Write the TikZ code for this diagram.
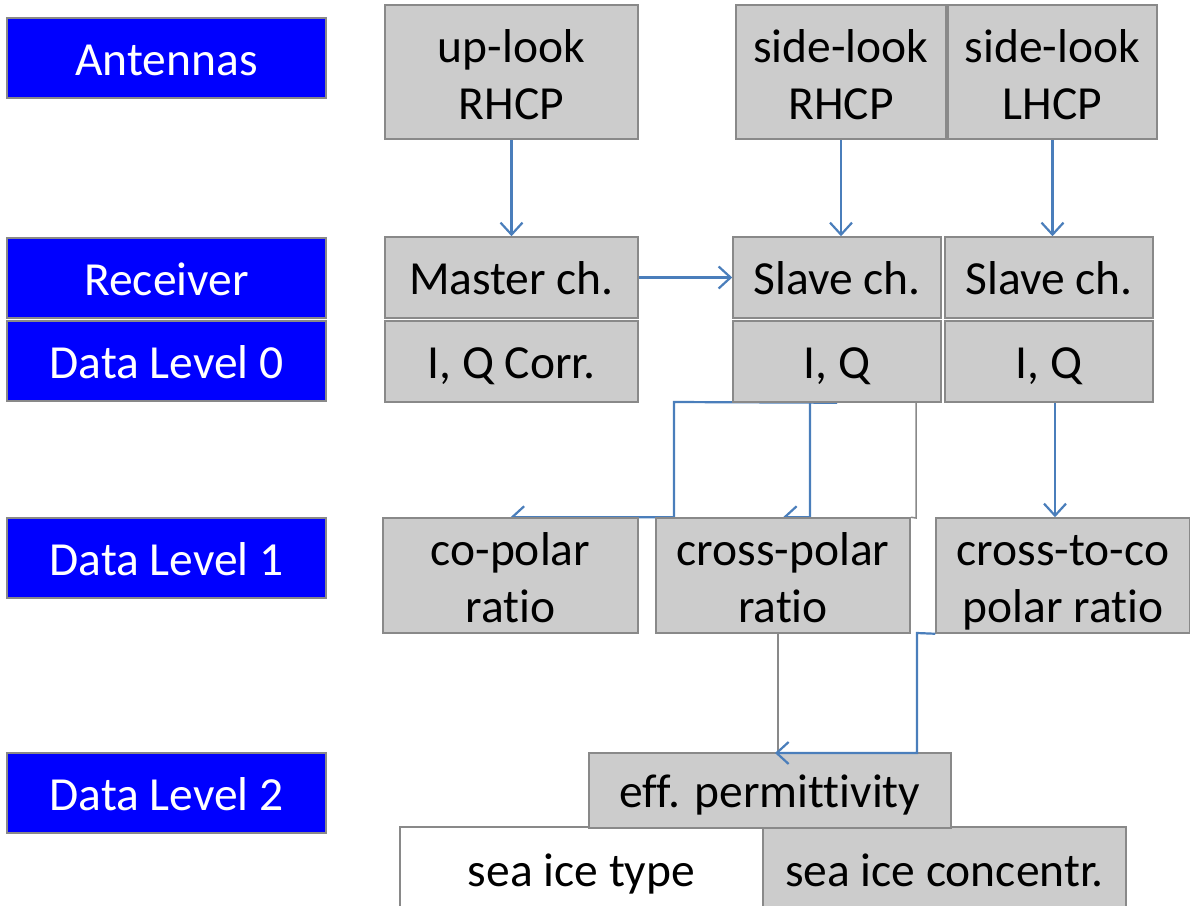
\documentclass[tikz,border=0pt]{standalone}
\usepackage{fontspec}
\setmainfont{Carlito}[Ligatures=NoCommon]
\usetikzlibrary{arrows.meta,backgrounds}
\definecolor{boxgrey}{RGB}{204,204,204}
\definecolor{edgegrey}{RGB}{137,137,137}
\definecolor{pureblue}{RGB}{0,0,255}
\definecolor{connblue}{RGB}{74,126,187}
\begin{document}
\begin{tikzpicture}[x=1pt,y=-1pt,
  box/.style={draw=edgegrey, line width=1.5pt, fill=boxgrey, inner sep=0pt, align=center, font=\fontsize{47.5}{57}\selectfont, text height=41pt, text depth=7pt},
  twoline/.style={text height=100pt, text depth=6pt},
  lab/.style={box, fill=pureblue, text=white, minimum width=319pt, minimum height=80pt},
  conn/.style={draw=connblue, line width=2.2pt, -{Straight Barb[length=12pt,width=22pt]}},
  gline/.style={draw=edgegrey, line width=1.5pt}]
\useasboundingbox (0,0) rectangle (1190,905);
\clip (0,0) rectangle (1190,905);
% level labels
\node[lab] (antennas) at (166.5,58) {Antennas};
\node[lab] (receiver) at (166.5,278) {Receiver};
\node[lab] (dl0) at (166.5,361) {Data Level 0};
\node[lab] (dl1) at (166.5,558) {Data Level 1};
\node[lab] (dl2) at (166.5,793) {Data Level 2};
% antennas
\node[box, twoline, minimum width=253pt, minimum height=134pt] (up) at (511.5,72) {up-look\\RHCP};
\node[box, twoline, minimum width=210pt, minimum height=134pt] (sR) at (841,72) {side-look\\RHCP};
\node[box, twoline, minimum width=209pt, minimum height=134pt] (sL) at (1052.5,72) {side-look\\LHCP};
% receiver
\node[box, minimum width=253pt, minimum height=81pt] (master) at (511.5,277.5) {Master ch.};
\node[box, minimum width=208pt, minimum height=81pt] (slave1) at (837,277.5) {Slave ch.};
\node[box, minimum width=208pt, minimum height=81pt] (slave2) at (1049,277.5) {Slave ch.};
% level 0
\node[box, minimum width=253pt, minimum height=81pt] (iqc) at (511.5,361.5) {I, Q Corr.};
\node[box, minimum width=208pt, minimum height=81pt] (iq1) at (837,361.5) {I, Q};
\node[box, minimum width=208pt, minimum height=81pt] (iq2) at (1049,361.5) {I, Q};
% level 1
\node[box, twoline, minimum width=255pt, minimum height=115pt] (copolar) at (510.5,575.5) {co-polar\\ratio};
\node[box, twoline, minimum width=254pt, minimum height=115pt] (crosspolar) at (783,575.5) {cross-polar\\ratio};
\node[box, twoline, minimum width=254pt, minimum height=115pt] (c2c) at (1063,575.5) {cross-to-co\\polar ratio};
% level 2
\node[box, minimum width=363pt, minimum height=84pt, fill=white] (type) at (581.5,869) {sea ice type};
\node[box, minimum width=363pt, minimum height=84pt] (conc) at (944.5,869) {sea ice concentr.};
\node[box, minimum width=362pt, minimum height=75pt] (eff) at (770,790.5) {eff. permittivity};
% junction coordinates
\coordinate (j1) at (674,402);
\coordinate (j2) at (810,402);
\coordinate (g1) at (916,402);
\coordinate (g2) at (916,518);
\coordinate (k1) at (1055,402);
\coordinate (m1) at (778,633);
\coordinate (m2) at (778,753);
\coordinate (n1) at (917,633);
\coordinate (n2) at (775,753);
\begin{pgfonlayer}{background}
\draw[conn] (up.south) -- (up.south |- master.north);
\draw[conn] (sR.south) -- (sR.south |- slave1.north);
\draw[conn] (sL.south) -- (sL.south |- slave2.north);
\draw[conn] (master.east) -- (slave1.west);
\draw[conn] (iq1.south) -- (j1) |- (copolar.north);
\draw[conn] (iq1.south) -- (j2) |- (crosspolar.north);
\draw[gline] (g1) -- (g2) -- (crosspolar.north east);
\draw[conn] (k1) -- (k1 |- c2c.north);
\draw[gline] (m1) -- (m2);
\end{pgfonlayer}
\draw[conn] (c2c.south west) -- (n1) |- (n2);
\end{tikzpicture}
\end{document}
